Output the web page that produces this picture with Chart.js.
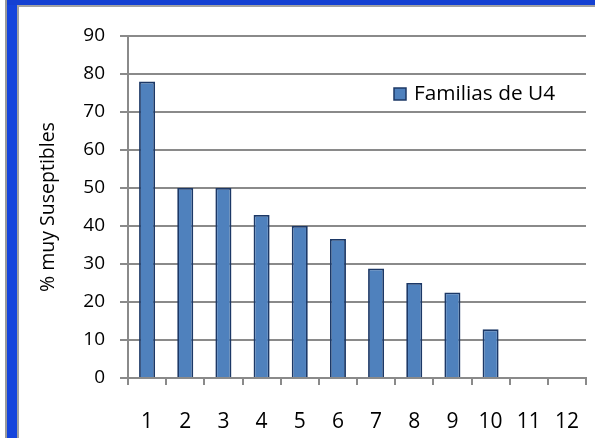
<!DOCTYPE html>
<html>
<head>
<meta charset="utf-8">
<script src="https://cdn.jsdelivr.net/npm/chart.js@4.4.1/dist/chart.umd.min.js"></script>
<style>
  html, body { margin: 0; padding: 0; background: #ffffff; }
  #wrap { position: relative; width: 595px; height: 438px; overflow: hidden; }
  #c { position: absolute; left: 0; top: 0; }
  .frame { position: absolute; pointer-events: none; }
</style>
</head>
<body>
<div id="wrap">
  <canvas id="c" width="595" height="438"></canvas>
  <!-- window frame: blue bands with thin grey edges -->
  <div class="frame" style="left:5px; top:0; width:2px; height:438px; background:#9a9a9a;"></div>
  <div class="frame" style="left:7px; top:0; width:10px; height:438px; background:#1444dc;"></div>
  <div class="frame" style="left:17px; top:6px; width:2px; height:432px; background:#a2a2a2;"></div>
  <div class="frame" style="left:7px; top:0; width:588px; height:5px; background:#1440d2;"></div>
  <div class="frame" style="left:17px; top:5px; width:578px; height:2px; background:#a2a2a2;"></div>
</div>
<script>
// Categories (family rank) and percentage of very susceptible plants
const categories = ['1', '2', '3', '4', '5', '6', '7', '8', '9', '10', '11', '12'];
const seriesLabel = 'Familias de U4';
const seriesValues = [78, 50, 50, 42.9, 40, 36.6, 28.8, 25, 22.5, 12.8, null, null];
const yTicks = [0, 10, 20, 30, 40, 50, 60, 70, 80, 90];
const yTitle = '% muy Suseptibles';

const FONT = "'Open Sans', 'Liberation Sans', sans-serif";
const GRID = '#8a8a8a';

// Legend drawn inside the plot area, upper right
const innerLegend = {
  id: 'innerLegend',
  afterDraw(chart) {
    const ctx = chart.ctx;
    const ds = chart.data.datasets[0];
    ctx.save();
    ctx.fillStyle = ds.backgroundColor;
    ctx.strokeStyle = ds.borderColor;
    ctx.lineWidth = 1.5;
    ctx.fillRect(394, 88, 12, 12);
    ctx.strokeRect(394, 88, 12, 12);
    ctx.fillStyle = '#000000';
    ctx.font = "20.8px " + FONT;
    ctx.textBaseline = 'middle';
    ctx.textAlign = 'left';
    ctx.fillText(ds.label, 414, 94);
    ctx.restore();
  }
};

new Chart(document.getElementById('c'), {
  type: 'bar',
  data: {
    labels: categories,
    datasets: [{
      label: seriesLabel,
      data: seriesValues,
      backgroundColor: '#4f81bd',
      borderColor: '#1c3866',
      borderWidth: 1.8,
      categoryPercentage: 1.0,
      barPercentage: 0.42
    }]
  },
  options: {
    responsive: false,
    animation: false,
    layout: { padding: { left: 20, top: 36, right: 9, bottom: 0 } },
    plugins: {
      legend: { display: false },
      tooltip: { enabled: false }
    },
    scales: {
      x: {
        offset: true,
        grid: {
          offset: true,
          drawOnChartArea: false,
          drawTicks: true,
          tickLength: 7,
          color: GRID,
          lineWidth: 2
        },
        border: { color: GRID, width: 2 },
        ticks: {
          color: '#000000',
          padding: 24,
          font: { family: FONT, size: 21 },
          maxRotation: 0
        },
        afterFit(scale) {
          scale.height = 60;
          // labels sit well inside their categories; no extra side room needed
          scale.paddingLeft = 0;
          scale.paddingRight = 0;
        }
      },
      y: {
        min: 0,
        max: 90,
        afterBuildTicks(scale) { scale.ticks = yTicks.map(v => ({ value: v })); },
        grid: {
          color: GRID,
          lineWidth: 2,
          drawTicks: true,
          tickLength: 8
        },
        border: { color: GRID, width: 2 },
        ticks: {
          color: '#000000',
          padding: 15,
          font: { family: FONT, size: 19 }
        },
        title: {
          display: true,
          text: yTitle,
          color: '#000000',
          font: { family: FONT, size: 19.5 },
          padding: { top: 17, bottom: 0 }
        },
        afterFit(scale) { scale.width = 108; }
      }
    }
  },
  plugins: [innerLegend]
});
</script>
</body>
</html>
